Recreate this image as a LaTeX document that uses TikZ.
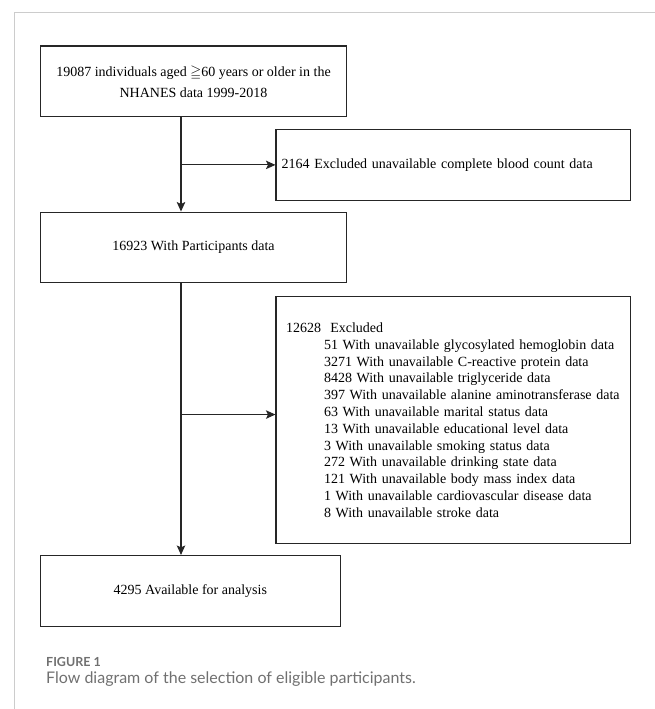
\documentclass[tikz,border=0pt]{standalone}
\usepackage{amssymb}
\usepackage{fontspec}
\setmainfont{Liberation Serif}
\newfontfamily\captionfont{Lato}
\usetikzlibrary{arrows.meta, positioning}
\definecolor{flowline}{HTML}{262626}
\definecolor{framegray}{HTML}{CCCCCC}
\definecolor{captiongray}{HTML}{707070}

\begin{document}
\begin{tikzpicture}[
        stagebox/.style={
            draw=flowline,
            line width=1.1pt,
            minimum width=306.4pt,
            minimum height=70.7pt,
            inner sep=0pt,
            align=center,
            font=\fontsize{14}{21}\selectfont
        },
        exclbox/.style={
            stagebox,
            align=left,
            font=\fontsize{14}{16.8}\selectfont
        },
        flowarrow/.style={
            -{Stealth[length=9.5pt, width=8.5pt, inset=2pt]},
            line width=1.1pt,
            flowline
        },
        framerule/.style={
            line width=0.9pt,
            framegray
        },
        captiontext/.style={
            anchor=base west,
            inner sep=0pt,
            text=captiongray
        }
    ]

        \useasboundingbox (0,0) rectangle (655pt,-709pt);

        % ---------------------------------------------------------------------
        % Page frame
        % ---------------------------------------------------------------------

        \draw[framerule]
            (655pt,-12.3pt) -| (14.3pt,-709pt);


        % ---------------------------------------------------------------------
        % Main column
        % ---------------------------------------------------------------------

        \node[stagebox] (start) at (193.5pt,-81.35pt)
            {19087 individuals aged $\geqq$60 years or older in the\\NHANES data 1999-2018};

        \node[
            stagebox,
            below=94.3pt of start
        ] (participants) {16923 With Participants data};

        \node[
            stagebox,
            minimum width=300.1pt,
            minimum height=71pt,
            below=271.6pt of participants.south west,
            anchor=north west
        ] (analysis) {4295 Available for analysis};


        % ---------------------------------------------------------------------
        % Exclusion boxes
        % ---------------------------------------------------------------------

        \node[
            exclbox,
            inner xsep=5.7pt,
            text width=343.1pt,
            minimum height=71pt,
            below right=11.6pt and 235.7pt of start.south west
        ] (cbc) {2164 Excluded unavailable complete blood count data};

        \node[
            exclbox,
            inner xsep=10pt,
            text width=334.7pt,
            minimum height=247.7pt,
            below right=12.3pt and 235.7pt of participants.south west
        ] (excluded) {
            12628~ Excluded\\
            \hspace*{38pt}51 With unavailable glycosylated hemoglobin data\\
            \hspace*{38pt}3271 With unavailable C-reactive protein data\\
            \hspace*{38pt}8428 With unavailable triglyceride data\\
            \hspace*{38pt}397 With unavailable alanine aminotransferase data\\
            \hspace*{38pt}63 With unavailable marital status data\\
            \hspace*{38pt}13 With unavailable educational level data\\
            \hspace*{38pt}3 With unavailable smoking status data\\
            \hspace*{38pt}272 With unavailable drinking state data\\
            \hspace*{38pt}121 With unavailable body mass index data\\
            \hspace*{38pt}1 With unavailable cardiovascular disease data\\
            \hspace*{38pt}8 With unavailable stroke data
        };


        % ---------------------------------------------------------------------
        % Connectors
        % ---------------------------------------------------------------------

        \coordinate (trunktop) at ([xshift=-12.5pt]start.south);
        \coordinate (trunkmid) at ([xshift=-12.5pt]participants.south);

        \draw[flowarrow]
            (trunktop) -- (trunktop |- participants.north);

        \draw[flowarrow]
            (cbc.west -| trunktop) -- (cbc.west);

        \draw[flowarrow]
            (trunkmid) -- (trunkmid |- analysis.north);

        \draw[flowarrow]
            ([yshift=5.5pt]excluded.west -| trunkmid) -- ([yshift=5.5pt]excluded.west);


        % ---------------------------------------------------------------------
        % Caption
        % ---------------------------------------------------------------------

        \node[
            captiontext,
            font=\captionfont\bfseries\fontsize{12.5}{15}\selectfont
        ] (figlabel) at (46pt,-666pt) {FIGURE 1};

        \node[
            captiontext,
            font=\captionfont\fontsize{16}{19}\selectfont
        ] (figcaption) at ([yshift=-17.3pt]figlabel.base west)
            {Flow diagram of the selection of eligible participants.};

    \end{tikzpicture}
\end{document}
